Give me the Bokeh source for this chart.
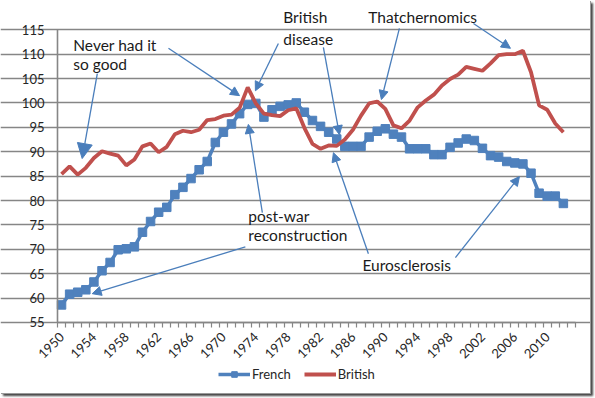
import math
from bokeh.plotting import figure
from bokeh.models import (FixedTicker, Legend, LegendItem, Label, Arrow,
                          NormalHead, Range1d)
from bokeh.embed import file_html
from bokeh.resources import INLINE

# ---------------- data ----------------
years = list(range(1950, 2013))
french = [58.6, 60.8, 61.2, 61.7, 63.3, 65.6, 67.3, 69.9, 70.1, 70.5,
          73.5, 75.7, 77.6, 78.6, 81.2, 82.7, 84.5, 86.3, 88.0, 91.9,
          94.0, 95.7, 97.8, 99.7, 99.9, 97.1, 98.6, 99.3, 99.6, 100.0,
          98.1, 96.4, 95.2, 94.0, 92.6, 91.1, 91.1, 91.1, 93.0, 94.2,
          94.7, 93.6, 93.0, 90.6, 90.6, 90.6, 89.4, 89.4, 90.9, 91.8,
          92.6, 92.3, 90.7, 89.2, 88.9, 88.0, 87.7, 87.5, 85.6, 81.5,
          80.9, 80.9, 79.4]
british = [85.4, 87.0, 85.3, 86.7, 88.7, 90.1, 89.6, 89.2, 87.2, 88.4,
           91.1, 91.7, 89.9, 91.0, 93.6, 94.3, 94.0, 94.5, 96.5, 96.7,
           97.4, 97.6, 99.0, 103.2, 99.9, 97.8, 97.5, 97.3, 98.5, 98.9,
           94.9, 91.6, 90.6, 91.3, 91.2, 92.5, 94.5, 97.4, 99.9, 100.3,
           98.8, 95.4, 94.8, 96.4, 99.1, 100.5, 101.7, 103.6, 104.9, 105.8,
           107.4, 107.0, 106.6, 108.1, 109.8, 110.0, 110.0, 110.7, 106.3, 99.5,
           98.6, 95.8, 94.0]
y_ticks = list(range(55, 116, 5))
x_label_years = list(range(1950, 2011, 4))
category_edges = [y - 0.5 for y in range(1950, 2015)]
x_bounds = (1949.5, 2013.5)
y_bounds = (55, 115)

# annotations: (text, year, value)
notes = [("Never had it", 1951.45, 111.8), ("so good", 1951.45, 107.9),
         ("British", 1977.39, 117.6), ("disease", 1977.39, 113.2),
         ("Thatchernomics", 1987.9, 117.6),
         ("post-war", 1973.08, 76.9), ("reconstruction", 1973.08, 73.0),
         ("Eurosclerosis", 1987.17, 66.8)]
# arrows: (year_start, value_start, year_end, value_end, head size)
arrows = [(1954.42, 106.0, 1952.55, 88.6, 15),
          (1963.21, 111.2, 1971.99, 101.5, 9),
          (1976.79, 112.2, 1973.95, 102.5, 9),
          (1982.35, 111.4, 1984.33, 93.5, 9),
          (1991.74, 115.3, 1989.52, 100.7, 9),
          (2000.89, 116.3, 2005.46, 111.2, 9),
          (1972.71, 70.5, 1953.79, 60.9, 9),
          (1974.81, 77.5, 1973.08, 95.6, 9),
          (1987.91, 69.1, 1983.59, 89.8, 9),
          (1998.66, 68.3, 2006.57, 84.9, 9)]

BLUE = "#4F81BD"
RED = "#C0504D"
GRID = "#868686"
ARROW = "#4A7EBB"
FONT = "Lato"

# the frame covers the whole figure; axes are drawn at fixed data locations
p = figure(width=590, height=393, output_backend="svg", toolbar_location=None,
           x_range=Range1d(1942.46, 2015.35), y_range=Range1d(40.44, 121.0),
           min_border_left=0, min_border_right=0, min_border_top=0,
           min_border_bottom=0)
p.outline_line_color = None
p.background_fill_color = "white"
p.border_fill_color = "white"
p.styles = {"box-shadow": "1px 1px 0 0 #9a9a9a, 3px 3px 2px 0 #444"}

# grid
p.xgrid.visible = False
p.ygrid.ticker = FixedTicker(ticks=y_ticks)
p.ygrid.bounds = x_bounds
p.ygrid.grid_line_color = GRID
p.ygrid.grid_line_width = 1.6

# y axis
p.yaxis.fixed_location = x_bounds[0]
p.yaxis.ticker = FixedTicker(ticks=y_ticks)
p.yaxis.bounds = y_bounds
p.yaxis.axis_line_color = GRID
p.yaxis.axis_line_width = 1.6
p.yaxis.major_tick_line_color = GRID
p.yaxis.major_tick_out = 5
p.yaxis.major_tick_in = 0
p.yaxis.minor_tick_line_color = None
p.yaxis.major_label_text_font = FONT
p.yaxis.major_label_text_font_size = "13px"
p.yaxis.major_label_text_color = "#262626"
p.yaxis.major_label_standoff = 8

# x axis
p.xaxis.fixed_location = y_bounds[0]
p.xaxis.ticker = FixedTicker(ticks=x_label_years, minor_ticks=category_edges)
p.xaxis.bounds = x_bounds
p.xaxis.axis_line_color = GRID
p.xaxis.axis_line_width = 1.6
p.xaxis.major_tick_line_color = None
p.xaxis.major_tick_out = 0
p.xaxis.major_tick_in = 0
p.xaxis.minor_tick_line_color = GRID
p.xaxis.minor_tick_out = 5
p.xaxis.minor_tick_in = 0
p.xaxis.minor_tick_line_width = 1.2
p.xaxis.major_label_orientation = math.pi / 4
p.xaxis.major_label_text_font = FONT
p.xaxis.major_label_text_font_size = "13px"
p.xaxis.major_label_text_color = "#262626"
p.xaxis.major_label_standoff = 7

# series
fl = p.line(years, french, line_color=BLUE, line_width=3.5)
fs = p.scatter(years, french, marker="square", size=8.5, fill_color=BLUE,
               line_color=BLUE)
bl = p.line(years, british, line_color=RED, line_width=3.8)

legend = Legend(items=[LegendItem(label="French", renderers=[fl, fs]),
                       LegendItem(label="British", renderers=[bl])],
                location=(218, 11), orientation="horizontal")
legend.border_line_color = None
legend.background_fill_alpha = 0
legend.padding = 0
legend.margin = 0
legend.spacing = 13
legend.glyph_width = 32
legend.glyph_height = 14
legend.label_standoff = 2
legend.label_text_font = FONT
legend.label_text_font_size = "13px"
legend.label_text_color = "#262626"
p.add_layout(legend)

for txt, xx, yy in notes:
    p.add_layout(Label(x=xx, y=yy, text=txt, text_font=FONT,
                       text_font_size="15.5px", text_baseline="middle",
                       text_color="#1a1a1a"))

for xs, ys, xe, ye, hs in arrows:
    p.add_layout(Arrow(x_start=xs, y_start=ys, x_end=xe, y_end=ye,
                       line_color=ARROW, line_width=1.3,
                       end=NormalHead(size=hs, fill_color=ARROW,
                                      line_color=ARROW, line_width=1)))

open("out.html", "w").write(file_html(p, INLINE))
